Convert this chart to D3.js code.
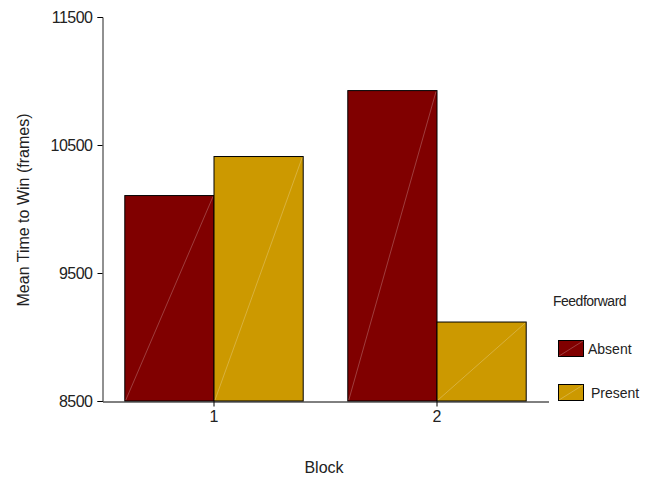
<!DOCTYPE html>
<html><head><meta charset="utf-8">
<script src="https://cdn.jsdelivr.net/npm/d3@7"></script>
<style>body{margin:0;background:#fff}text{font-family:"Liberation Sans Narrow","Arial Narrow","Liberation Sans",sans-serif;fill:#222}</style>
</head><body><svg id="c" width="649" height="479"></svg>
<script>
const blocks = ["1", "2"];
const groups = ["Absent", "Present"];
const absentValues = [10105, 10925];
const presentValues = [10410, 9117];
const yTicks = [8500, 9500, 10500, 11500];
const colors = ["#800000", "#CC9900"];

const svg = d3.select("#c");
const y = d3.scaleLinear().domain([8500, 11500]).range([401, 17]);
const x = d3.scaleBand().domain(blocks).range([102.5, 548.5]).paddingInner(0.2).paddingOuter(0.1);
const xs = d3.scaleBand().domain(groups).range([0, x.bandwidth()]);

const data = blocks.map((b, i) => ({block: b, vals: [absentValues[i], presentValues[i]]}));

const g = svg.append("g");
data.forEach(d => {
  d.vals.forEach((v, j) => {
    const x0 = x(d.block) + xs(groups[j]);
    const w = xs.bandwidth();
    g.append("rect").attr("x", x0).attr("y", y(v)).attr("width", w).attr("height", y(8500) - y(v))
      .attr("fill", colors[j]).attr("stroke", "#000").attr("stroke-width", 1);
    g.append("line").attr("x1", x0 + 1).attr("y1", y(8500) - 1).attr("x2", x0 + w - 1).attr("y2", y(v) + 1)
      .attr("stroke", "#fff").attr("stroke-opacity", 0.3).attr("stroke-width", 0.8);
  });
});

// y axis
const ya = svg.append("g").attr("transform", "translate(102.5,0)")
  .call(d3.axisLeft(y).tickValues(yTicks).tickSize(5).tickPadding(5).tickFormat(d3.format("d")));
ya.select(".domain").attr("stroke", "#222");
ya.selectAll("text").style("font-size", "16px").attr("fill", "#222").style("letter-spacing", "-0.5px");

// x axis
const xa = svg.append("g").attr("transform", "translate(0,401.5)")
  .call(d3.axisBottom(x).tickSize(5).tickSizeOuter(0).tickPadding(4));
xa.selectAll("text").style("font-size", "16px").attr("fill", "#222");

svg.append("text").attr("transform", "translate(29,210) rotate(-90)").attr("text-anchor", "middle")
  .style("font-size", "16px").text("Mean Time to Win (frames)");
svg.append("text").attr("x", 324).attr("y", 473).attr("text-anchor", "middle")
  .style("font-size", "16px").text("Block");

// legend
svg.append("text").attr("x", 553).attr("y", 306).style("font-size", "14px").style("letter-spacing", "-0.5px").text("Feedforward");
const legY = [340, 384];
const legTx = [588, 591];
groups.forEach((gname, j) => {
  svg.append("rect").attr("x", 558.5).attr("y", legY[j] + 0.5).attr("width", 25).attr("height", 16)
    .attr("fill", colors[j]).attr("stroke", "#000");
  svg.append("line").attr("x1", 559).attr("y1", legY[j] + 16).attr("x2", 583).attr("y2", legY[j] + 1)
    .attr("stroke", "#fff").attr("stroke-opacity", 0.3).attr("stroke-width", 0.8);
  svg.append("text").attr("x", legTx[j]).attr("y", legY[j] + 14).style("font-size", "14px").text(gname);
});
</script></body></html>
